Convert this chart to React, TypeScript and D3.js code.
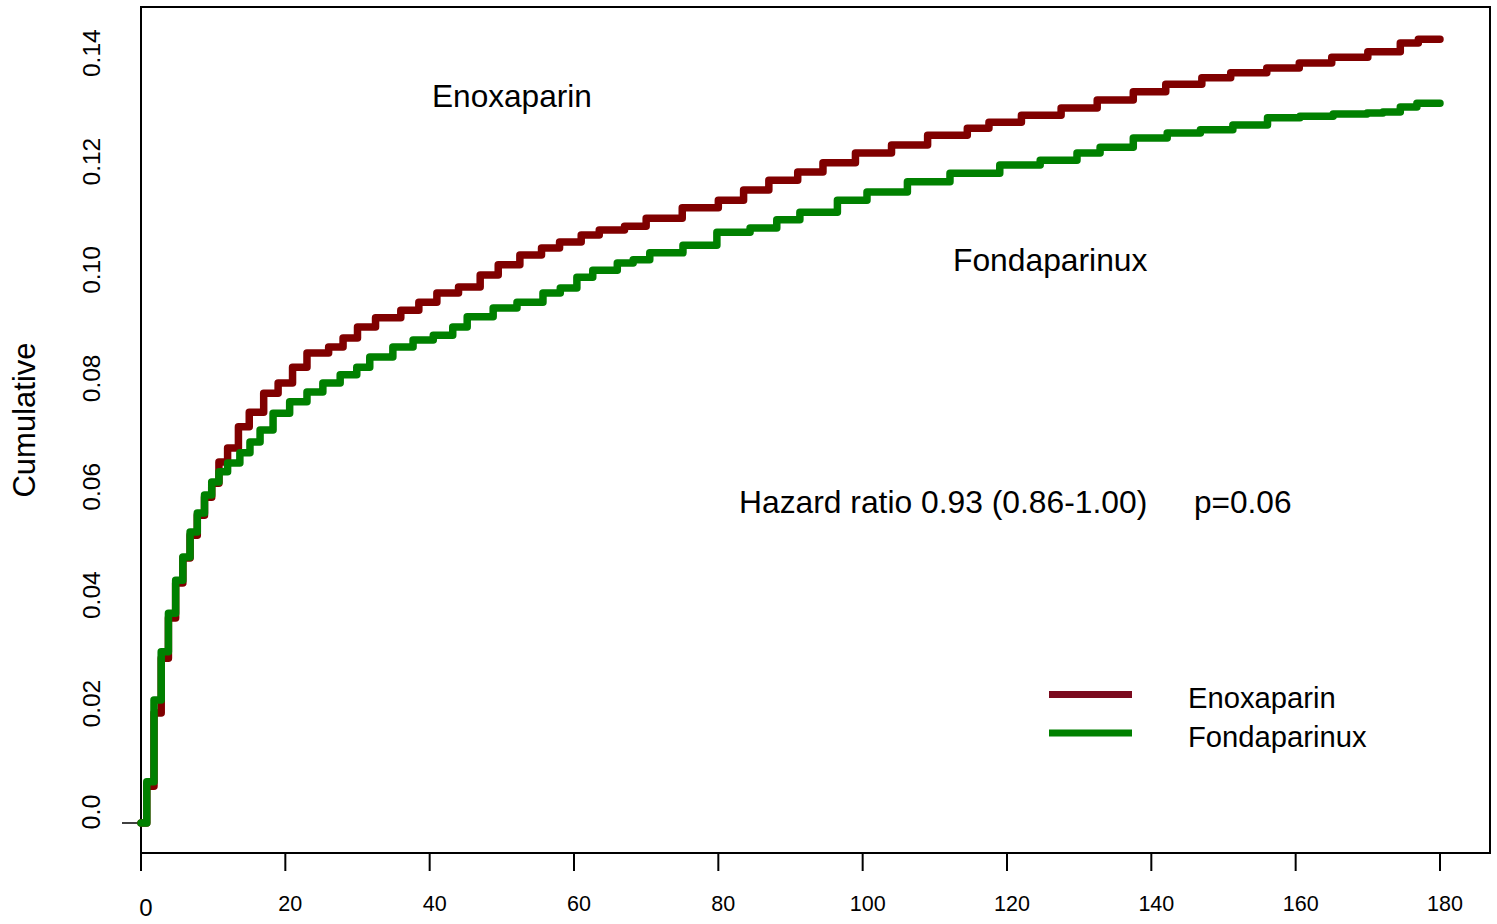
import React from "react";
import * as d3 from "d3";

// Cumulative event curves (day, cumulative proportion)
const enoxDays = [0, 0.8, 1.8, 2.8, 3.8, 4.8, 5.8, 6.8, 7.8, 8.8, 9.8, 10.8, 12, 13.5, 15, 17, 19, 21, 23, 26, 28, 30, 32.5, 36, 38.5, 41, 44, 47, 49.5, 52.5, 55.5, 58, 61, 63.5, 67, 70, 75, 80, 83.5, 87, 91, 94.5, 99, 104, 109, 114.5, 117.5, 122, 127.5, 132.5, 137.5, 142, 147, 151, 156, 160.5, 165, 170, 174.5, 177, 180];
const enoxValues = [0, 0.0068, 0.0203, 0.0304, 0.0378, 0.0443, 0.0489, 0.0531, 0.0568, 0.0601, 0.0627, 0.0666, 0.0692, 0.0731, 0.0758, 0.0793, 0.0812, 0.0841, 0.0867, 0.0878, 0.0895, 0.0915, 0.0932, 0.0946, 0.0961, 0.0978, 0.0989, 0.1011, 0.103, 0.1048, 0.1061, 0.1072, 0.1085, 0.1094, 0.1101, 0.1116, 0.1135, 0.1149, 0.1168, 0.1186, 0.1201, 0.1218, 0.1236, 0.1251, 0.1269, 0.1282, 0.1293, 0.1306, 0.1319, 0.1334, 0.1349, 0.1363, 0.1375, 0.1384, 0.1393, 0.1402, 0.1413, 0.1423, 0.1439, 0.1446, 0.1446];

const fondaDays = [0, 0.8, 1.8, 2.8, 3.8, 4.8, 5.8, 6.8, 7.8, 8.8, 9.8, 10.8, 12, 13.7, 15.1, 16.5, 18.3, 20.6, 23, 25.2, 27.6, 29.9, 31.7, 34.9, 37.7, 40.5, 43.2, 45.2, 48.8, 52.1, 55.7, 58.1, 60.4, 62.6, 66, 68.2, 70.5, 75.1, 79.8, 84.4, 88.1, 91.3, 96.5, 100.6, 106.2, 112.1, 119, 124.6, 129.7, 132.9, 137.5, 142.2, 146.8, 151.3, 156.1, 160.6, 165.2, 169.9, 172.1, 174.5, 176.8, 180];
const fondaValues = [0, 0.0076, 0.0227, 0.0316, 0.0387, 0.0448, 0.0491, 0.0537, 0.0572, 0.0605, 0.0629, 0.0648, 0.0664, 0.0683, 0.0703, 0.0725, 0.0756, 0.0777, 0.0795, 0.0812, 0.0827, 0.0841, 0.086, 0.0878, 0.0891, 0.09, 0.0915, 0.0934, 0.095, 0.0961, 0.0978, 0.0987, 0.1007, 0.102, 0.1033, 0.1039, 0.1052, 0.1066, 0.109, 0.1098, 0.1113, 0.1127, 0.1149, 0.1164, 0.1183, 0.1199, 0.1214, 0.1223, 0.1236, 0.1247, 0.1264, 0.1273, 0.1279, 0.1288, 0.1301, 0.1304, 0.1308, 0.131, 0.1312, 0.1321, 0.1328, 0.1328];

const xTickValues = [0, 20, 40, 60, 80, 100, 120, 140, 160, 180];
const xTickLabels = ["0", "20", "40", "60", "80", "100", "120", "140", "160", "180"];
const yTickValues = [0, 0.02, 0.04, 0.06, 0.08, 0.1, 0.12, 0.14];
const yTickLabels = ["0.0", "0.02", "0.04", "0.06", "0.08", "0.10", "0.12", "0.14"];

const seriesNames = ["Enoxaparin", "Fondaparinux"];
const seriesColors = ["#800000", "#008000"];
const legendColors = ["#7b0a1e", "#008000"];
const annotation = "Hazard ratio 0.93 (0.86-1.00)";
const pText = "p=0.06";
const yTitle = "Cumulative";

const FONT = "'Liberation Sans', Arial, Helvetica, sans-serif";

export default function App() {
  const W = 1497;
  const H = 924;
  const plotLeft = 141;
  const plotRight = 1490;
  const plotTop = 7;
  const plotBottom = 853;

  const x = d3.scaleLinear().domain([0, 186.93]).range([plotLeft, plotRight]);
  const y = d3.scaleLinear().domain([0, 0.14]).range([823, 64.2]);

  const line = d3
    .line<[number, number]>()
    .x((d) => x(d[0]))
    .y((d) => y(d[1]))
    .curve(d3.curveStepAfter);

  const enox: [number, number][] = enoxDays.map((d, i) => [d, enoxValues[i]]);
  const fonda: [number, number][] = fondaDays.map((d, i) => [d, fondaValues[i]]);

  return (
    <svg
      width={W}
      height={H}
      style={{ position: "absolute", left: 0, top: 0, background: "#fff" }}
      fontFamily={FONT}
    >
      <rect x={0} y={0} width={W} height={H} fill="#fff" />
      {/* frame */}
      <rect
        x={plotLeft}
        y={plotTop}
        width={plotRight - plotLeft}
        height={plotBottom - plotTop}
        fill="none"
        stroke="#000"
        strokeWidth={2}
      />
      {/* x ticks */}
      {xTickValues.map((v, i) => (
        <g key={"xt" + i}>
          <line x1={x(v)} x2={x(v)} y1={plotBottom} y2={plotBottom + 18} stroke="#000" strokeWidth={2} />
          <text
            x={x(v) + 5}
            y={i === 0 ? 916 : 911}
            fontSize={i === 0 ? 24 : 21.5}
            textAnchor="middle"
            fill="#000"
          >
            {xTickLabels[i]}
          </text>
        </g>
      ))}
      {/* y zero tick */}
      <line x1={122} x2={138} y1={y(0)} y2={y(0)} stroke="#000" strokeWidth={1.5} />
      {/* y labels */}
      {yTickValues.map((v, i) => (
        <text
          key={"yl" + i}
          transform={`translate(100,${y(v) - 11}) rotate(-90)`}
          fontSize={i === 0 ? 25 : 24.5}
          textAnchor="middle"
          fill="#000"
        >
          {yTickLabels[i]}
        </text>
      ))}
      <text transform="translate(35,420) rotate(-90)" fontSize={31} textAnchor="middle" fill="#000">
        {yTitle}
      </text>

      {/* curves */}
      <path d={line(enox) || ""} fill="none" stroke={seriesColors[0]} strokeWidth={7.5} strokeLinejoin="round" strokeLinecap="round" />
      <path d={line(fonda) || ""} fill="none" stroke={seriesColors[1]} strokeWidth={7.5} strokeLinejoin="round" strokeLinecap="round" />

      {/* annotations */}
      <text x={432} y={107} fontSize={31.6} fill="#000">
        {seriesNames[0]}
      </text>
      <text x={953} y={271} fontSize={31.8} fill="#000">
        {seriesNames[1]}
      </text>
      <text x={739} y={513} fontSize={31.8} fill="#000">
        {annotation}
      </text>
      <text x={1194} y={513} fontSize={31.6} fill="#000">
        {pText}
      </text>

      {/* legend */}
      {seriesNames.map((n, i) => (
        <g key={"lg" + i}>
          <line x1={1049} x2={1132} y1={694.5 + i * 38.5} y2={694.5 + i * 38.5} stroke={legendColors[i]} strokeWidth={7} />
          <text x={1188} y={708 + i * 38.5} fontSize={29.2} fill="#000">
            {n}
          </text>
        </g>
      ))}
    </svg>
  );
}
